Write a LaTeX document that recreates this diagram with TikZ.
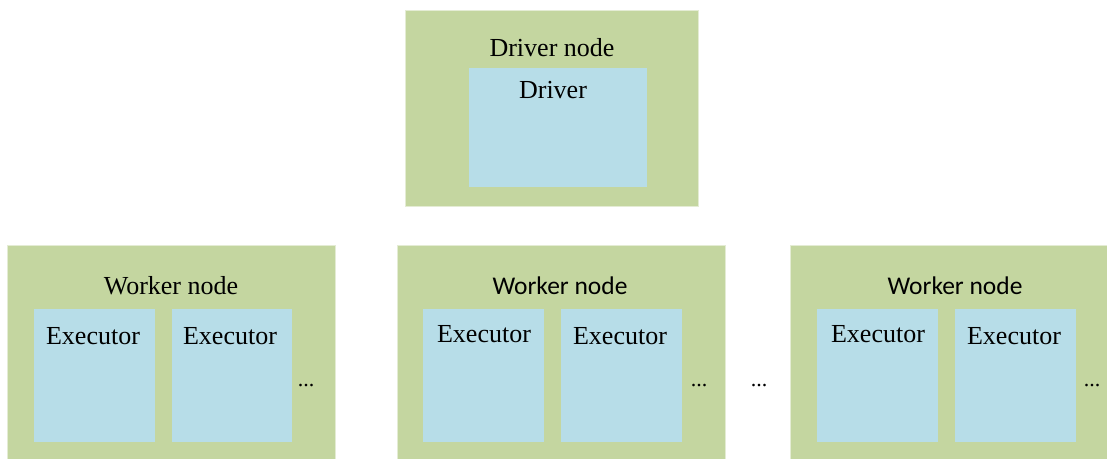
\documentclass[tikz,border=0pt]{standalone}
\usepackage{fontspec}
\setmainfont{Liberation Serif}
\newfontfamily\sansfnt{Carlito}
\definecolor{hostgreen}{HTML}{C4D6A0}
\definecolor{hostedge}{HTML}{E4ECD4}
\definecolor{procblue}{HTML}{B7DDE8}
\begin{document}
\begin{tikzpicture}[x=1pt,y=-1pt,
  hostbox/.style={fill=hostgreen,draw=hostedge,line width=1pt},
  procbox/.style={fill=procblue,draw=none},
  lbl/.style={anchor=base,inner sep=0pt,font=\fontsize{26}{30}\selectfont},
  slbl/.style={anchor=base,inner sep=0pt,font=\sansfnt\fontsize{25.5}{30}\selectfont},
  dots/.style={anchor=base,inner sep=0pt,font=\fontsize{22}{26}\selectfont}]
\useasboundingbox (0,0) rectangle (1107,458);
% Driver
\filldraw[hostbox] (405,10) rectangle (698,206);
\fill[procbox] (469,68) rectangle (647,187);
\node[lbl] (dn) at (552,56) {Driver node};
\node[lbl] (dr) at (553,98) {Driver};
% Worker 1
\filldraw[hostbox] (7,245) rectangle (335,470);
\fill[procbox] (34,309) rectangle (155,442);
\fill[procbox] (172,309) rectangle (292,442);
\node[lbl] (w1) at (171,294) {Worker node};
\node[lbl] (e11) at (93,344) {Executor};
\node[lbl] (e12) at (230,344) {Executor};
\node[dots] (d1) at (306,386) {...};
% Worker 2
\filldraw[hostbox] (397,245) rectangle (725,470);
\fill[procbox] (423,309) rectangle (544,442);
\fill[procbox] (561,309) rectangle (682,442);
\node[slbl] (w2) at (560,294) {Worker node};
\node[lbl] (e21) at (484,342) {Executor};
\node[lbl] (e22) at (620,344) {Executor};
\node[dots] (d2) at (699,386) {...};
% middle dots
\node[dots] (dm) at (759,386) {...};
% Worker 3
\filldraw[hostbox] (790,245) rectangle (1115,470);
\fill[procbox] (817,309) rectangle (938,442);
\fill[procbox] (955,309) rectangle (1076,442);
\node[slbl] (w3) at (955,294) {Worker node};
\node[lbl] (e31) at (878,342) {Executor};
\node[lbl] (e32) at (1014,344) {Executor};
\node[dots] (d3) at (1092,386) {...};
\end{tikzpicture}
\end{document}
